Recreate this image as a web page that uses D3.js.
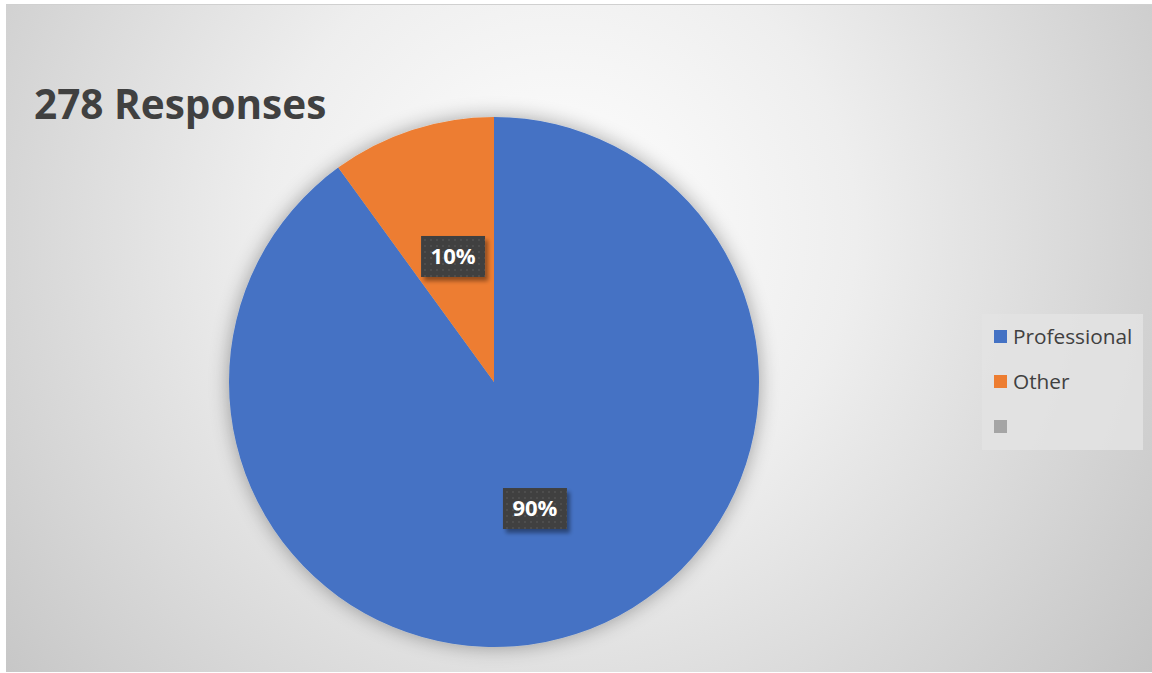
<!DOCTYPE html>
<html><head><meta charset="utf-8">
<script src="https://cdn.jsdelivr.net/npm/d3@7"></script>
<style>html,body{margin:0;padding:0;background:#fff;}svg{display:block;}</style>
</head><body>
<svg id="chart" width="1152" height="673"></svg>
<script>
const title = "278 Responses";
const categories = ["Professional", "Other", ""];
const values = [90, 10, 0];
const colors = ["#4472C4", "#ED7D31", "#A5A5A5"];

const W = 1152, H = 673;
const svg = d3.select("#chart");
const defs = svg.append("defs");

const bg = defs.append("radialGradient").attr("id","bg")
  .attr("gradientUnits","userSpaceOnUse").attr("cx",560).attr("cy",230).attr("r",740)
  .attr("fx",560).attr("fy",230);
bg.append("stop").attr("offset","0").attr("stop-color","#ffffff");
bg.append("stop").attr("offset","0.4").attr("stop-color","#eeeeee");
bg.append("stop").attr("offset","1").attr("stop-color","#c4c4c4");

const pat = defs.append("pattern").attr("id","dots").attr("patternUnits","userSpaceOnUse")
  .attr("width",6).attr("height",6);
pat.append("rect").attr("width",6).attr("height",6).attr("fill","#404040");
pat.append("rect").attr("x",1).attr("y",1).attr("width",2).attr("height",2).attr("fill","#4e4e4e");

const shadow = defs.append("filter").attr("id","pieShadow").attr("x","-20%").attr("y","-20%").attr("width","140%").attr("height","140%");
shadow.append("feGaussianBlur").attr("in","SourceAlpha").attr("stdDeviation",10).attr("result","b");
shadow.append("feOffset").attr("in","b").attr("dx",0).attr("dy",0).attr("result","o");
shadow.append("feComponentTransfer").attr("in","o").attr("result","s")
  .append("feFuncA").attr("type","linear").attr("slope",0.35);
const m1 = shadow.append("feMerge");
m1.append("feMergeNode").attr("in","s");
m1.append("feMergeNode").attr("in","SourceGraphic");

const lshadow = defs.append("filter").attr("id","lblShadow").attr("x","-30%").attr("y","-30%").attr("width","160%").attr("height","180%");
lshadow.append("feGaussianBlur").attr("in","SourceAlpha").attr("stdDeviation",2).attr("result","b");
lshadow.append("feOffset").attr("in","b").attr("dx",3).attr("dy",4).attr("result","o");
lshadow.append("feComponentTransfer").attr("in","o").attr("result","s")
  .append("feFuncA").attr("type","linear").attr("slope",0.4);
const m2 = lshadow.append("feMerge");
m2.append("feMergeNode").attr("in","s");
m2.append("feMergeNode").attr("in","SourceGraphic");

// chart area
svg.append("rect").attr("x",6).attr("y",4).attr("width",W-6).attr("height",668)
  .attr("fill","url(#bg)");
svg.append("line").attr("x1",6).attr("x2",W).attr("y1",4.5).attr("y2",4.5).attr("stroke","#d0d0d0");

svg.append("text").attr("x",34).attr("y",119).text(title)
  .attr("font-family","'Open Sans', sans-serif").attr("font-weight","bold")
  .attr("font-size",40.5).attr("fill","#404040");

const cx = 494, cy = 382, R = 265;
const pie = d3.pie().sort(null).value(d => d.value);
const data = categories.map((c,i) => ({cat:c, value:values[i], color:colors[i]}));
const arcs = pie(data).filter(a => a.data.value > 0);
const arc = d3.arc().innerRadius(0).outerRadius(R);

const g = svg.append("g").attr("transform",`translate(${cx},${cy})`);
g.append("g").attr("filter","url(#pieShadow)").selectAll("path").data(arcs).join("path")
  .attr("d",arc).attr("fill",d => d.data.color);

const total = d3.sum(values);
const lbl = g.selectAll("g.lbl").data(arcs).join("g").attr("class","lbl")
  .attr("transform",d => `translate(${arc.centroid(d)})`);
lbl.append("rect").attr("x",-32).attr("y",-20).attr("width",64).attr("height",41)
  .attr("fill","url(#dots)").attr("filter","url(#lblShadow)");
lbl.append("text").attr("text-anchor","middle").attr("dy","0.37em")
  .attr("font-family","'Open Sans', sans-serif").attr("font-weight","bold")
  .attr("font-size",22).attr("fill","#ffffff")
  .text(d => d3.format(".0%")(d.data.value/total));

// legend
const lg = svg.append("g").attr("transform","translate(982,314)");
lg.append("rect").attr("width",161).attr("height",136).attr("fill","#e3e3e3").attr("fill-opacity",0.85);
const items = lg.selectAll("g.item").data(data).join("g").attr("class","item")
  .attr("transform",(d,i) => `translate(12,${16 + i*45})`);
items.append("rect").attr("width",13).attr("height",13).attr("fill",d => d.color);
items.append("text").attr("x",19).attr("y",13.5).text(d => d.cat)
  .attr("font-family","'Open Sans', sans-serif").attr("font-size",20.8).attr("fill","#404040");
</script>
</body></html>
